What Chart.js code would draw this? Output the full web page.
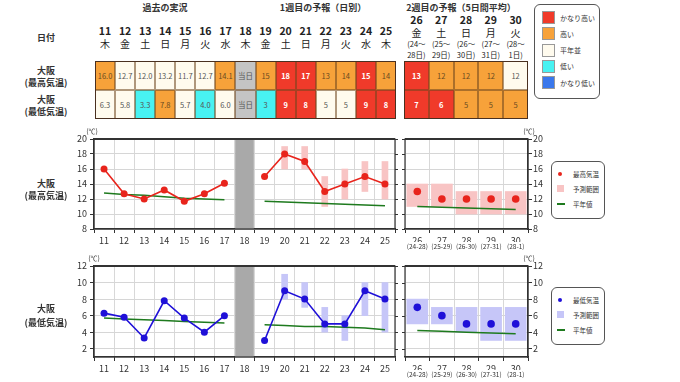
<!DOCTYPE html>
<html>
<head>
<meta charset="utf-8">
<script src="https://cdn.jsdelivr.net/npm/chart.js@4.4.0/dist/chart.umd.min.js"></script>
<style>
body { margin: 0; background: #fff; }
#page { position: relative; width: 680px; height: 382px; overflow: hidden;
  font-family: "Noto Sans CJK JP", "Noto Sans", sans-serif; color: #222; }
.t { position: absolute; white-space: nowrap; transform: translate(-50%, -50%); text-align: center; line-height: 1; }
.cell { position: absolute; box-sizing: border-box; border: 0.5px solid rgba(110,70,30,0.55);
  display: flex; align-items: center; justify-content: center; font-size: 7.5px; color: #555; }
.tbl { position: absolute; box-sizing: border-box; border: 1px solid #4a3020; }
canvas { position: absolute; }
.legend { position: absolute; box-sizing: border-box; border: 1px solid #555; border-radius: 6px; background: #fff; }
.sw { position: absolute; box-sizing: border-box; }
.lt { position: absolute; white-space: nowrap; line-height: 1; transform: translateY(-50%); color: #333; }
</style>
</head>
<body>
<div id="page">
  <canvas id="maxA" width="344" height="132" style="left:56px;top:122px"></canvas>
  <canvas id="maxB" width="150" height="132" style="left:400px;top:122px"></canvas>
  <canvas id="minA" width="344" height="132" style="left:56px;top:250px"></canvas>
  <canvas id="minB" width="150" height="132" style="left:400px;top:250px"></canvas>
</div>
<script>
// days shown in the daily part (past + week 1) and in the 5-day-mean part (week 2)
const days1 = ['11','12','13','14','15','16','17','18','19','20','21','22','23','24','25'];
const wdays1 = ['木','金','土','日','月','火','水','木','金','土','日','月','火','水','木'];
const days2 = ['26','27','28','29','30'];
const wdays2 = ['金','土','日','月','火'];
const periodFrom = ['24','25','26','27','28'];
const periodTo = ['28','29','30','31','1'];
const todayIdx = 7;

// max temperature
const maxDaily   = [16.0, 12.7, 12.0, 13.2, 11.7, 12.7, 14.1, null, 15, 18, 17, 13, 14, 15, 14];
const maxRangeLo = [null, null, null, null, null, null, null, null, null, 16, 16, 11, 12, 13, 12];
const maxRangeHi = [null, null, null, null, null, null, null, null, null, 19, 19, 15, 16, 17, 17];
const maxNormal  = [12.8, 12.6, 12.5, 12.3, 12.1, 12.0, 11.9, null, 11.7, 11.6, 11.5, 11.4, 11.3, 11.2, 11.1];
const maxClass   = ['h','n','n','n','n','n','h','t','h','vh','vh','h','h','vh','h'];
const maxWeek2   = [13, 12, 12, 12, 12];
const maxWeek2Lo = [11, 11, 10, 10, 10];
const maxWeek2Hi = [14, 14, 13, 13, 13];
const maxNormal2 = [11.0, 10.9, 10.8, 10.7, 10.6];
const maxClass2  = ['vh','h','h','h','n'];

// min temperature
const minDaily   = [6.3, 5.8, 3.3, 7.8, 5.7, 4.0, 6.0, null, 3, 9, 8, 5, 5, 9, 8];
const minRangeLo = [null, null, null, null, null, null, null, null, null, 8, 7, 4, 3, 6, 4];
const minRangeHi = [null, null, null, null, null, null, null, null, null, 11, 10, 7, 6, 10, 10];
const minNormal  = [5.7, 5.6, 5.5, 5.4, 5.3, 5.2, 5.1, null, 4.9, 4.8, 4.7, 4.7, 4.6, 4.5, 4.3];
const minClass   = ['n','n','l','h','n','l','n','t','l','vh','vh','n','n','vh','vh'];
const minWeek2   = [7, 6, 5, 5, 5];
const minWeek2Lo = [5, 5, 4, 3, 3];
const minWeek2Hi = [8, 7, 7, 7, 7];
const minNormal2 = [4.2, 4.1, 4.0, 3.9, 3.8];
const minClass2  = ['vh','vh','h','h','h'];

const classNames = { vh: 'かなり高い', h: '高い', n: '平年並', l: '低い', vl: 'かなり低い' };

const clsColor = { vh: '#f03a2a', h: '#f7a23a', n: '#fffbee', l: '#48f2f2', vl: '#3a78ec', t: '#c4c4c4' };
const FONT = '"Noto Sans CJK JP", "Noto Sans", sans-serif';
const page = document.getElementById('page');

function txt(x, y, s, css) {
  const d = document.createElement('div');
  d.className = 't';
  d.style.left = x + 'px';
  d.style.top = y + 'px';
  d.style.cssText += css || '';
  d.textContent = s;
  page.appendChild(d);
  return d;
}

// ---- table headings ----
const hd = 'font-size:9px;font-weight:bold;color:#333;';
txt(165, 7, '過去の実況', hd);
txt(323, 7, '1週目の予報（日別）', hd);
txt(461, 7, '2週目の予報（5日間平均）', hd);
txt(46, 37, '日付', hd);
txt(46, 70, '大阪', hd);
txt(46, 82, '(最高気温)', hd);
txt(46, 99, '大阪', hd);
txt(46, 111, '(最低気温)', hd);
txt(46, 183, '大阪', hd);
txt(46, 195, '(最高気温)', hd);
txt(46, 308, '大阪', hd);
txt(46, 322, '(最低気温)', hd);

const cw1 = 301 / days1.length, cx1 = 95;
const cw2 = 124 / days2.length, cx2 = 404;
days1.forEach((d, i) => {
  const x = cx1 + cw1 * (i + 0.5);
  txt(x, 31, d, 'font-size:10.5px;font-weight:bold;color:#222;');
  txt(x, 44, wdays1[i], 'font-size:10px;color:#222;');
});
days2.forEach((d, i) => {
  const x = cx2 + cw2 * (i + 0.5);
  txt(x, 20, d, 'font-size:10.5px;font-weight:bold;color:#222;');
  txt(x, 33, wdays2[i], 'font-size:10px;color:#222;');
  txt(x, 44, '(' + periodFrom[i] + '～', 'font-size:7.5px;color:#222;');
  txt(x, 55, periodTo[i] + '日)', 'font-size:7.5px;color:#222;');
});

function cell(left, top, w, h, cls, label) {
  const d = document.createElement('div');
  d.className = 'cell';
  d.style.left = left + 'px';
  d.style.top = top + 'px';
  d.style.width = w + 'px';
  d.style.height = h + 'px';
  d.style.background = clsColor[cls];
  if (cls === 'vh') { d.style.color = '#fff'; d.style.fontWeight = 'bold'; }
  if (cls === 'h') d.style.color = '#6a4a20';
  d.textContent = label;
  page.appendChild(d);
}
function fmt(v, i) {
  if (i === todayIdx) return '当日';
  return i < todayIdx ? v.toFixed(1) : String(v);
}
function box(l, t, w, h) {
  const d = document.createElement('div');
  d.className = 'tbl';
  d.style.cssText += `left:${l}px;top:${t}px;width:${w}px;height:${h}px`;
  page.appendChild(d);
}
days1.forEach((d, i) => {
  cell(cx1 + cw1 * i, 61, cw1, 29, maxClass[i], fmt(maxDaily[i], i));
  cell(cx1 + cw1 * i, 90, cw1, 29, minClass[i], fmt(minDaily[i], i));
});
days2.forEach((d, i) => {
  cell(cx2 + cw2 * i, 61, cw2, 29, maxClass2[i], String(maxWeek2[i]));
  cell(cx2 + cw2 * i, 90, cw2, 29, minClass2[i], String(minWeek2[i]));
});
box(cx1, 61, 301, 58);
box(cx2, 61, 124, 58);

// ---- class legend (top right) ----
function legendBox(l, t, w, h) {
  const d = document.createElement('div');
  d.className = 'legend';
  d.style.cssText += `left:${l}px;top:${t}px;width:${w}px;height:${h}px`;
  page.appendChild(d);
}
function sw(l, t, w, h, css) {
  const d = document.createElement('div');
  d.className = 'sw';
  d.style.cssText += `left:${l}px;top:${t}px;width:${w}px;height:${h}px;` + css;
  page.appendChild(d);
}
function lt(l, y, s, size) {
  const d = document.createElement('div');
  d.className = 'lt';
  d.style.cssText += `left:${l}px;top:${y}px;font-size:${size}px`;
  d.textContent = s;
  page.appendChild(d);
}
legendBox(534, 4, 66, 95);
Object.keys(classNames).forEach((k, i) => {
  sw(542, 11 + i * 16.3, 13, 13, `background:${clsColor[k]};border:0.5px solid #999;`);
  lt(560, 17.5 + i * 16.3, classNames[k], 7);
});

// ---- chart legends ----
function chartLegend(top, dotColor, rangeColor, name) {
  legendBox(551, top, 54, 58);
  sw(558, top + 11, 4, 4, `background:${dotColor};border-radius:50%;`);
  lt(573, top + 13, name, 6.5);
  sw(557, top + 24, 7, 7, `background:${rangeColor};`);
  lt(573, top + 28, '予測範囲', 6.5);
  sw(557, top + 42, 8, 2, 'background:#1e7a1e;');
  lt(573, top + 43, '平年値', 6.5);
}
chartLegend(161, '#e8241c', '#f8c4c4', '最高気温');
chartLegend(287, '#1f10d8', '#c6c6f8', '最低気温');

txt(92, 131, '(℃)', 'font-size:7px;color:#333;');
txt(529, 131, '(℃)', 'font-size:7px;color:#333;');
txt(94, 258, '(℃)', 'font-size:7px;color:#333;');
txt(529, 258, '(℃)', 'font-size:7px;color:#333;');

// ---- charts ----
// box round the plot area, with tick marks mirrored on the other side
const frame = {
  id: 'frame',
  afterDatasetsDraw(chart, args, opts) {
    const { ctx, chartArea: a } = chart;
    const y = chart.scales.y;
    ctx.save();
    ctx.strokeStyle = '#333';
    ctx.lineWidth = 1.2;
    ctx.strokeRect(a.left, a.top, a.right - a.left, a.bottom - a.top);
    ctx.lineWidth = 2;
    ctx.beginPath();
    ctx.moveTo(a.left, a.top);
    ctx.lineTo(a.right, a.top);
    ctx.stroke();
    ctx.lineWidth = 1;
    y.ticks.forEach(t => {
      const py = Math.round(y.getPixelForValue(t.value)) + 0.5;
      ctx.beginPath();
      if (opts.side === 'right') { ctx.moveTo(a.right, py); ctx.lineTo(a.right + 3, py); }
      else { ctx.moveTo(a.left, py); ctx.lineTo(a.left - 3, py); }
      ctx.stroke();
    });
    ctx.restore();
  }
};

function makeChart(id, o) {
  const scales = {
    x: {
      type: 'category', labels: o.labels, offset: true,
      grid: { offset: true, color: '#d8d8d8', tickColor: '#333', tickLength: 4 },
      border: { color: '#333', width: 1.2 },
      ticks: { font: { size: 9, family: FONT }, color: '#333', padding: 2, maxRotation: 0, autoSkip: false },
      afterFit: s => { s.height = o.subLabels ? 13 : 25; }
    },
    y: {
      min: o.yMin, max: o.yMax, position: o.yPos,
      grid: { color: '#d6d6d6', tickColor: '#333', tickLength: 4 },
      border: { color: '#333', width: 1.2 },
      ticks: { stepSize: 2, font: { size: 9, family: FONT }, color: '#333', padding: o.yPos === 'left' ? 3 : 1 },
      afterBuildTicks: s => { s.ticks = s.ticks.filter(t => t.value % 2 === 0); },
      afterFit: s => { s.width = o.yPos === 'left' ? 38 : 22; }
    }
  };
  if (o.subLabels) {
    scales.x2 = {
      type: 'category', labels: o.subLabels, offset: true, position: 'bottom',
      grid: { display: false, drawTicks: false }, border: { display: false },
      ticks: { font: { size: 6.5, family: FONT }, color: '#333', padding: 1, maxRotation: 0, autoSkip: false },
      afterFit: s => { s.height = 12; }
    };
  }
  return new Chart(document.getElementById(id), {
    type: 'bar',
    data: { labels: o.labels, datasets: o.datasets },
    options: {
      responsive: false, animation: false,
      layout: { padding: o.padding },
      plugins: { legend: { display: false }, tooltip: { enabled: false }, frame: { side: o.yPos === 'left' ? 'right' : 'left' } },
      scales
    },
    plugins: [frame]
  });
}

function dailyDatasets(vals, lo, hi, normal, yMin, yMax, col, rangeCol) {
  return [
    { type: 'line', data: vals, borderColor: col, backgroundColor: col, borderWidth: 1.6,
      pointRadius: 3.5, pointBorderWidth: 0, pointBackgroundColor: col, order: 1 },
    { type: 'line', data: normal, borderColor: '#1e7a1e', borderWidth: 1.5, pointRadius: 0, order: 2 },
    { type: 'bar', data: lo.map((v, i) => v === null ? null : [v, hi[i]]), backgroundColor: rangeCol,
      barThickness: 6, grouped: false, order: 3 },
    { type: 'bar', data: vals.map((v, i) => i === todayIdx ? [yMin, yMax] : null), backgroundColor: '#a9a9a9',
      barThickness: 18, grouped: false, order: 4 }
  ];
}
function weekDatasets(vals, lo, hi, normal, col, rangeCol) {
  return [
    { type: 'line', data: vals, showLine: false, borderColor: col, pointRadius: 3.8, pointBorderWidth: 0,
      pointBackgroundColor: col, order: 1 },
    { type: 'line', data: normal, borderColor: '#1e7a1e', borderWidth: 1.5, pointRadius: 0, order: 2 },
    { type: 'bar', data: lo.map((v, i) => [v, hi[i]]), backgroundColor: rangeCol,
      barThickness: 21, grouped: false, order: 3 }
  ];
}
const subLabels = periodFrom.map((f, i) => '(' + f + '-' + periodTo[i] + ')');

makeChart('maxA', { labels: days1, yMin: 8, yMax: 20, yPos: 'left', padding: { top: 17, right: 5 },
  datasets: dailyDatasets(maxDaily, maxRangeLo, maxRangeHi, maxNormal, 8, 20, '#e8241c', '#f8c4c4') });
makeChart('maxB', { labels: days2, subLabels, yMin: 8, yMax: 20, yPos: 'right', padding: { top: 17, left: 5 },
  datasets: weekDatasets(maxWeek2, maxWeek2Lo, maxWeek2Hi, maxNormal2, '#e8241c', '#f8c4c4') });
makeChart('minA', { labels: days1, yMin: 1, yMax: 12, yPos: 'left', padding: { top: 16, right: 5 },
  datasets: dailyDatasets(minDaily, minRangeLo, minRangeHi, minNormal, 1, 12, '#1f10d8', '#c6c6f8') });
makeChart('minB', { labels: days2, subLabels, yMin: 1, yMax: 12, yPos: 'right', padding: { top: 16, left: 5 },
  datasets: weekDatasets(minWeek2, minWeek2Lo, minWeek2Hi, minNormal2, '#1f10d8', '#c6c6f8') });
</script>
</body>
</html>
